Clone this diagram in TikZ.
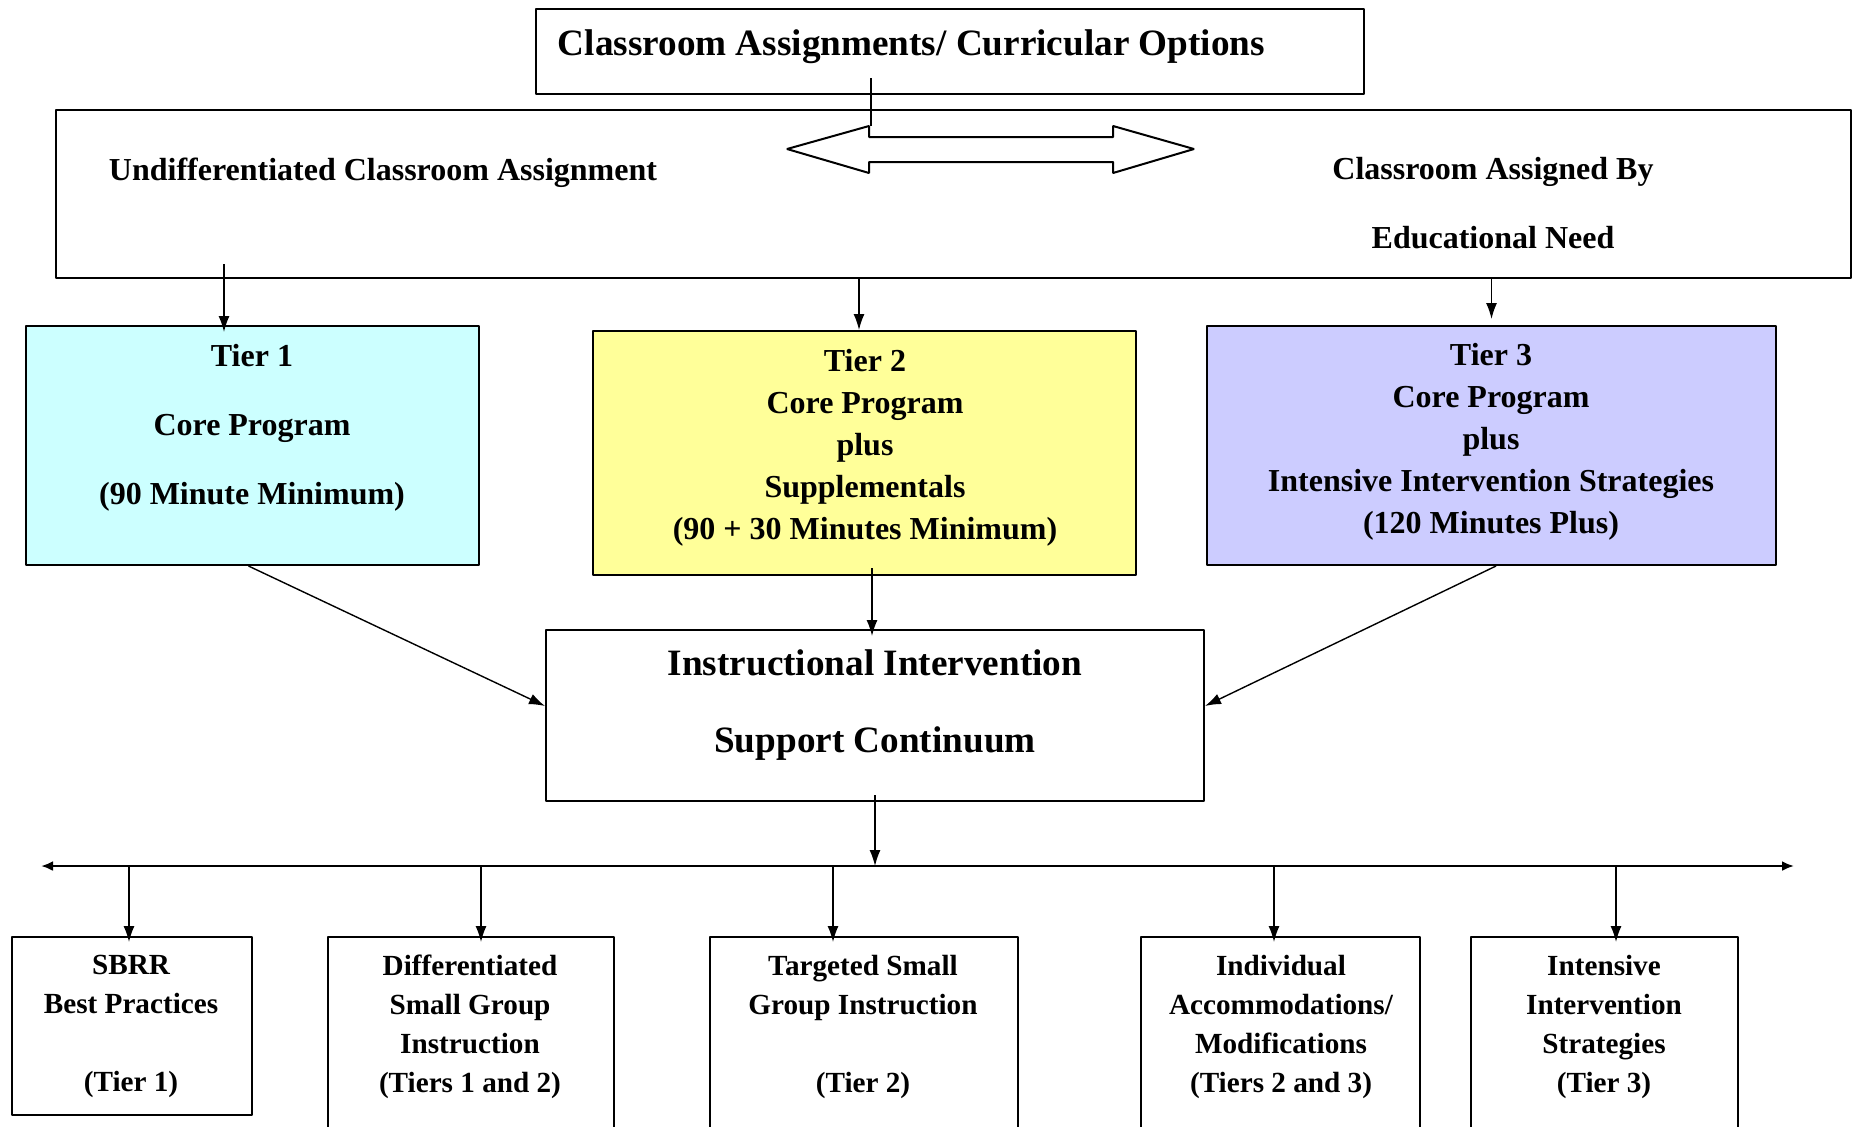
\documentclass[tikz,border=0pt]{standalone}
\usepackage{fontspec}
\setmainfont{Liberation Serif}
\usetikzlibrary{arrows.meta}
\definecolor{tieronefill}{RGB}{204,255,255}
\definecolor{tiertwofill}{RGB}{255,255,153}
\definecolor{tierthreefill}{RGB}{204,204,255}
\begin{document}
\begin{tikzpicture}[>={Latex[length=8pt,width=5.5pt]},x=0.5pt,y=-0.5pt,line join=bevel,
  box/.style={draw,line width=1pt,inner sep=0pt},
  conn/.style={->,line width=0.7pt},
  txt/.style={font=\bfseries\fontsize{16}{21}\selectfont,align=center,inner sep=0pt},
  bigtxt/.style={font=\bfseries\fontsize{18.6}{24}\selectfont,align=center,inner sep=0pt},
  smalltxt/.style={font=\bfseries\fontsize{14.6}{19.5}\selectfont,align=center,inner sep=0pt}]
\useasboundingbox (0,0) rectangle (1856,1126);
%%
  % Node: Title
  \node[box,minimum width=414pt,minimum height=42.5pt] (title) at (950,51.5) {};
  \node[bigtxt] (titletext) at (911.5,46.5) {Classroom Assignments/ Curricular Options};
  % Node: Assign
  \node[box,minimum width=897.5pt,minimum height=84pt] (assign) at (953.5,194) {};
  \node[txt] (undiff) at (383,172.5) {Undifferentiated Classroom Assignment};
  \node[txt] (byneed) at (1493,203.5) {Classroom Assigned By\\[13.5pt]Educational Need};
  % Swap arrow
  \draw[line width=1pt] (787,149) -- (869,126) -- (869,137) -- (1113,137) -- (1113,126)
    -- (1194,149) -- (1113,173) -- (1113,162) -- (869,162) -- (869,173) -- cycle;
  \coordinate (titlestem) at (871,78);
  \coordinate (swaptop) at (871,126);
  % Edge: Title -> Swap
  \draw[line width=0.7pt] (titlestem) -- (swaptop);
  % Node: Tier1
  \node[box,fill=tieronefill,minimum width=226.5pt,minimum height=119.5pt] (tier1) at (252.5,445.5) {};
  \node[txt] (tier1text) at (252,428) {Tier 1\\[13.5pt]Core Program\\[13.5pt](90 Minute Minimum)};
  % Node: Tier2
  \node[box,fill=tiertwofill,minimum width=271.5pt,minimum height=122pt] (tier2) at (864.5,453) {};
  \node[txt] (tier2text) at (865,448) {Tier 2\\Core Program\\plus\\Supplementals\\(90 + 30 Minutes Minimum)};
  % Node: Tier3
  \node[box,fill=tierthreefill,minimum width=284.5pt,minimum height=119.5pt] (tier3) at (1491.5,445.5) {};
  \node[txt] (tier3text) at (1491,442) {Tier 3\\Core Program\\plus\\Intensive Intervention Strategies\\(120 Minutes Plus)};
  % Node: Continuum
  \node[box,minimum width=329pt,minimum height=85.5pt] (cont) at (875,715.5) {};
  \node[bigtxt] (conttext) at (875,705) {Instructional Intervention\\[14.5pt]Support Continuum};
  % Nodes: supports
  \node[box,minimum width=120pt,minimum height=89pt] (b1) at (132,1026) {};
  \node[box,minimum width=143pt,minimum height=101.5pt] (b2) at (471,1038.5) {};
  \node[box,minimum width=154pt,minimum height=101.5pt] (b3) at (864,1038.5) {};
  \node[box,minimum width=139.5pt,minimum height=101.5pt] (b4) at (1280.5,1038.5) {};
  \node[box,minimum width=133.5pt,minimum height=101.5pt] (b5) at (1604.5,1038.5) {};
  \node[smalltxt] (b1text) at (131,1026.5) {SBRR\\Best Practices\\[19.5pt](Tier 1)};
  \node[smalltxt] (b2text) at (470,1026.5) {Differentiated\\Small Group\\Instruction\\(Tiers 1 and 2)};
  \node[smalltxt] (b3text) at (863,1026.5) {Targeted Small\\Group Instruction\\[19.5pt](Tier 2)};
  \node[smalltxt] (b4text) at (1281,1026.5) {Individual\\Accommodations/\\Modifications\\(Tiers 2 and 3)};
  \node[smalltxt] (b5text) at (1604,1026.5) {Intensive\\Intervention\\Strategies\\(Tier 3)};
  % Edge: Assign -> Tier1
  \coordinate (t1in) at ([xshift=-14.25pt,yshift=-3.5pt]tier1.north);
  \draw[conn,shorten <=-7.5pt] (t1in |- assign.south) -- (t1in);
  % Edge: Assign -> Tier2
  \coordinate (t2in) at ([xshift=-2.75pt]tier2.north);
  \draw[conn] (t2in |- assign.south) -- (t2in);
  % Edge: Assign -> Tier3
  \coordinate (t3in) at ([yshift=3pt]tier3.north);
  \draw[conn] (t3in |- assign.south) -- (t3in);
  % Edge: Tier1 -> Continuum
  \draw[conn] ([xshift=-2pt]tier1.south) -- ([yshift=4.75pt]cont.west);
  % Edge: Tier3 -> Continuum
  \draw[conn] ([xshift=2.25pt]tier3.south) -- ([yshift=4.75pt]cont.east);
  % Edge: Tier2 -> Continuum
  \coordinate (t2out) at ([xshift=3.75pt]tier2.south);
  \coordinate (contin) at ([yshift=-3.5pt]cont.north);
  \draw[conn,shorten <=-4pt] (t2out) -- (t2out |- contin);
  % Edge: Continuum -> bar
  \coordinate (barL) at (41,866);
  \coordinate (barR) at (1794,866);
  \draw[<->,line width=1.2pt,>={Latex[length=6pt,width=5pt]}] (barL) -- (barR);
  \draw[conn,shorten <=-3.5pt] (cont.south) -- (cont.south |- barL);
  % Edge: bar -> supports
  \foreach \b/\dx in {b1/-1.5pt,b2/5pt,b3/-15.5pt,b4/-3.25pt,b5/5.75pt}{
    \coordinate (tip) at ([xshift=\dx,yshift=-3pt]\b.north);
    \draw[conn] (tip |- barL) -- (tip);
  }
%
\end{tikzpicture}
\end{document}
